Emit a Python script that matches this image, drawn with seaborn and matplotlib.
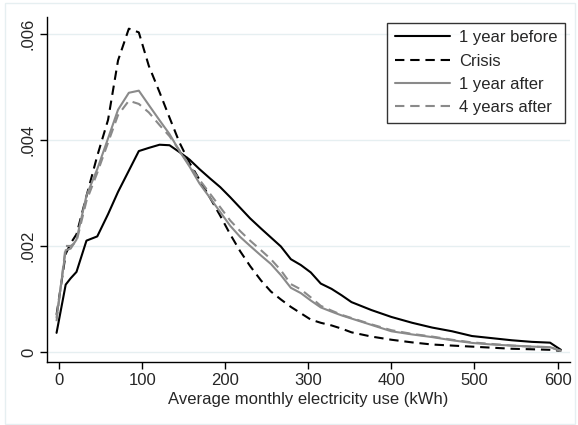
import matplotlib
matplotlib.use("Agg")
import matplotlib.pyplot as plt
import seaborn as sns
import pandas as pd
from matplotlib.patches import Rectangle

kwh = [-3, 8, 14, 21, 33, 46, 59, 71, 84, 96, 108, 121, 133, 145, 157, 169, 182, 194,
       206, 218, 230, 243, 255, 267, 279, 291, 303, 315, 328, 340, 352, 376, 400, 425,
       449, 473, 497, 521, 545, 569, 591, 604]

year_before = [0.00036, 0.00127, 0.00139, 0.00151, 0.00210, 0.00218, 0.00260, 0.00302,
               0.00342, 0.00379, 0.00385, 0.00391, 0.00390, 0.00377, 0.00363, 0.00345,
               0.00327, 0.00311, 0.00292, 0.00272, 0.00252, 0.00233, 0.00216, 0.00199,
               0.00175, 0.00164, 0.00150, 0.00129, 0.00119, 0.00107, 0.00094, 0.00079,
               0.00066, 0.00055, 0.00046, 0.00039, 0.00030, 0.00026, 0.00022, 0.00019,
               0.000175, 0.00004]

crisis = [0.00070, 0.00185, 0.00205, 0.00222, 0.00294, 0.00370, 0.00438, 0.00550,
          0.00610, 0.00603, 0.00540, 0.00490, 0.00442, 0.00395, 0.00357, 0.00325,
          0.00290, 0.00257, 0.00222, 0.00190, 0.00162, 0.00135, 0.00114, 0.00099,
          0.00085, 0.00073, 0.00061, 0.00055, 0.00050, 0.00044, 0.00037, 0.00029,
          0.00023, 0.00018, 0.00014, 0.00012, 0.00010, 0.00008, 0.00006, 0.00005,
          0.00004, 0.00002]

year_after = [0.00065, 0.00192, 0.00195, 0.00212, 0.00295, 0.00345, 0.00403, 0.00457,
              0.00489, 0.00493, 0.00466, 0.00437, 0.00411, 0.00379, 0.00350, 0.00318,
              0.00290, 0.00264, 0.00238, 0.00217, 0.00200, 0.00182, 0.00166, 0.00145,
              0.00121, 0.00111, 0.00097, 0.00084, 0.00076, 0.00069, 0.00063, 0.00051,
              0.00039, 0.00033, 0.00028, 0.00022, 0.00017, 0.00014, 0.00012, 0.00010,
              0.00009, 0.00002]

four_years_after = [0.00058, 0.00200, 0.00200, 0.00208, 0.00285, 0.00338, 0.00395, 0.00447,
                    0.00474, 0.00468, 0.00452, 0.00428, 0.00407, 0.00380, 0.00352, 0.00325,
                    0.00298, 0.00273, 0.00248, 0.00228, 0.00210, 0.00192, 0.00175, 0.00154,
                    0.00128, 0.00118, 0.00103, 0.00087, 0.00078, 0.00070, 0.00064, 0.00052,
                    0.00041, 0.00034, 0.00029, 0.00023, 0.00018, 0.00015, 0.00012, 0.00010,
                    0.00009, 0.00002]

series_names = ["1 year before", "Crisis", "1 year after", "4 years after"]
x_ticks = [0, 100, 200, 300, 400, 500, 600]
y_ticks = [0, 0.002, 0.004, 0.006]
y_tick_labels = ["0", ".002", ".004", ".006"]
x_label = "Average monthly electricity use (kWh)"

sns.set_theme(style="white")
plt.rcParams["font.family"] = ["Liberation Sans", "DejaVu Sans"]

fig = plt.figure(figsize=(5.78, 4.25), dpi=100)
fig.patch.set_facecolor("white")
ax = fig.add_axes([47 / 578, 1 - 362 / 425, (570 - 47) / 578, (362 - 17) / 425])

styles = [
    dict(color="black", dashes=None),
    dict(color="black", dashes=(4.5, 2.8)),
    dict(color="#8a8a8a", dashes=None),
    dict(color="#8a8a8a", dashes=(4.5, 2.8)),
]
all_vals = [year_before, crisis, year_after, four_years_after]
for name, vals, st in zip(series_names, all_vals, styles):
    df = pd.DataFrame({"kwh": kwh, "density": vals})
    sns.lineplot(data=df, x="kwh", y="density", ax=ax, color=st["color"],
                 linewidth=1.5, label=name)
    if st["dashes"] is not None:
        ax.lines[-1].set_dashes(st["dashes"])

ax.set_xlim(-14.5, 615)
ax.set_ylim(-0.00019, 0.00632)
ax.set_xticks(x_ticks)
ax.set_xticklabels([str(t) for t in x_ticks], fontsize=12)
ax.set_yticks(y_ticks)
ax.set_yticklabels(y_tick_labels, fontsize=12, rotation=90, va="center")
ax.set_xlabel(x_label, fontsize=12, labelpad=3)
ax.set_ylabel("")
for yv in y_ticks:
    ax.axhline(yv, color="#e6eff1", linewidth=1.0, zorder=0)
ax.tick_params(axis="both", direction="out", length=5, width=1, color="black",
               bottom=True, left=True, pad=3)
for s in ["top", "right"]:
    ax.spines[s].set_visible(False)
for s in ["left", "bottom"]:
    ax.spines[s].set_color("black")
    ax.spines[s].set_linewidth(1.0)

leg = ax.legend(loc="upper right", bbox_to_anchor=(565 / 578, 1 - 22.7 / 425),
                bbox_transform=fig.transFigure, fontsize=12, frameon=True,
                fancybox=False, edgecolor="black", handlelength=3.3,
                handletextpad=0.55, borderpad=0.45, labelspacing=0.5,
                borderaxespad=0)
leg.get_frame().set_linewidth(1.0)
for h, st in zip(leg.get_lines(), styles):
    if st["dashes"] is not None:
        h.set_dashes(st["dashes"])

fig.patches.append(Rectangle((5 / 578, 1 / 425), 570 / 578, 421 / 425,
                             transform=fig.transFigure, fill=False,
                             edgecolor="#e6eff1", linewidth=1.0))

fig.savefig("out.png", dpi=100)
